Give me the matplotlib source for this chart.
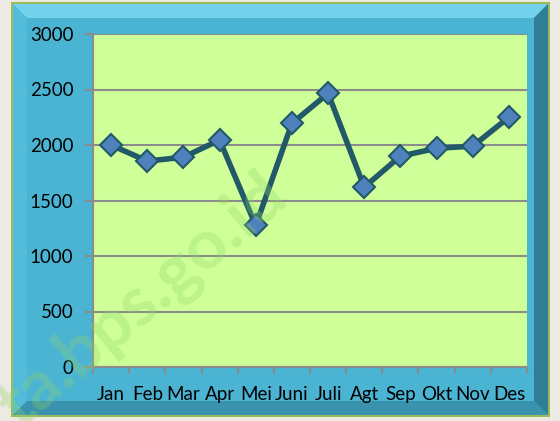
import numpy as np
import matplotlib.pyplot as plt
from matplotlib.patches import Polygon

months = ["Jan", "Feb", "Mar", "Apr", "Mei", "Juni", "Juli", "Agt", "Sep", "Okt", "Nov", "Des"]
values = [2000, 1855, 1890, 2045, 1275, 2195, 2465, 1620, 1900, 1970, 1990, 2250]
yticks = [0, 500, 1000, 1500, 2000, 2500, 3000]

plt.rcParams["font.family"] = ["Lato", "DejaVu Sans"]

fig = plt.figure(figsize=(5.6, 4.21), dpi=100)
fig.patch.set_facecolor("#ECEAE2")

W, H = 560, 421


def fx(px):
    return px / W


def fy(py):
    return 1 - py / H


def poly(pts, color):
    fig.patches.append(Polygon([(fx(a), fy(c)) for a, c in pts], closed=True,
                               transform=fig.transFigure, facecolor=color,
                               edgecolor="none", zorder=-5))


# blue frame with bevel
x0, x1, y0, y1 = 13, 548, 4, 415
b = 14
poly([(x0 - 2, y0 - 2), (x1 + 2, y0 - 2), (x1 + 2, y1 + 2), (x0 - 2, y1 + 2)], "#9BBB59")
poly([(x0, y0), (x1, y0), (x1, y1), (x0, y1)], "#4BB4D3")
poly([(x0, y0), (x1, y0), (x1 - b, y0 + b), (x0 + b, y0 + b)], "#74D3EC")
poly([(x0, y0), (x0 + b, y0 + b), (x0 + b, y1 - b), (x0, y1)], "#52BCDA")
poly([(x1, y0), (x1, y1), (x1 - b, y1 - b), (x1 - b, y0 + b)], "#2E7F96")
poly([(x0, y1), (x1, y1), (x1 - b, y1 - b), (x0 + b, y1 - b)], "#3A93AC")
poly([(x0 + b, y0 + b), (x1 - b, y0 + b), (x1 - b, y1 - b), (x0 + b, y1 - b)], "#4BB4D3")

ax = fig.add_axes([fx(93), fy(367), fx(527 - 93), (367 - 34) / H])
ax.set_zorder(2)
ax.set_facecolor("#CFFF98")

x = np.arange(len(months))
ax.plot(x, values, color="#215968", linewidth=4, marker="D", markersize=11,
        markerfacecolor="#4F81BD", markeredgecolor="#215968", markeredgewidth=1.5, zorder=3)

ax.set_xlim(-0.5, len(months) - 0.5)
ax.set_ylim(0, 3000)
ax.set_yticks(yticks)
ax.yaxis.grid(True, color="#8C8C8C", linewidth=1.5)
ax.set_axisbelow(True)

ax.set_xticks(np.arange(-0.5, len(months), 1))
ax.set_xticklabels([])
ax.set_xticks(x, minor=True)
ax.set_xticklabels(months, minor=True, fontsize=13.5)
ax.tick_params(axis="x", which="minor", length=0, pad=14)
ax.tick_params(axis="x", which="major", length=5, width=1.5, color="#8C8C8C")
ax.tick_params(axis="y", length=6, width=1.5, color="#8C8C8C", labelsize=13.5, pad=8)

for s in ["top", "right"]:
    ax.spines[s].set_visible(False)
for s in ["left", "bottom"]:
    ax.spines[s].set_color("#8C8C8C")
    ax.spines[s].set_linewidth(1.5)

# faint watermark, cut off at the bottom-left like the source
t = fig.text(0.257, 0.285, "ta.bps.go.id", fontsize=50, fontweight="bold", color="#8FD468",
             alpha=0.3, rotation=40, ha="center", va="center")
t.set_zorder(10)

fig.savefig("out.png", dpi=100, facecolor=fig.get_facecolor())
